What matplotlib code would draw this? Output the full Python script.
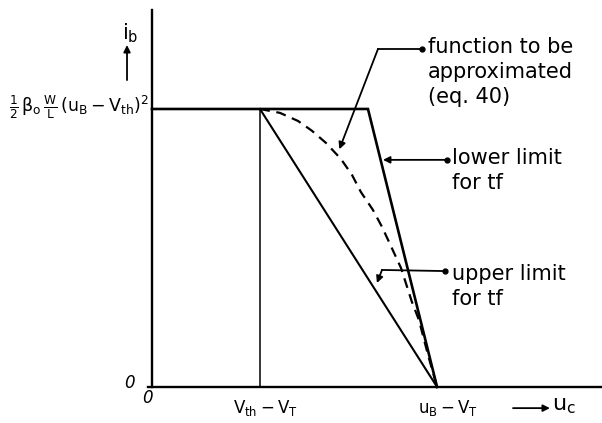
import matplotlib
matplotlib.use("Agg")
import matplotlib.pyplot as plt

# ===== settings =====
plt.rcParams["font.family"] = ["DejaVu Sans"]
plt.rcParams["mathtext.fontset"] = "custom"
plt.rcParams["mathtext.rm"] = "DejaVu Sans"
plt.rcParams["mathtext.it"] = "DejaVu Sans"

# ===== data (normalised units: Vth-VT = 1, saturation current = 1) =====
x_vth = 1.0          # Vth - VT
x_knee = 2.0         # end of the flat part of the lower limit
x_ub = 2.64          # uB - VT
i_max = 1.0          # 1/2 beta W/L (uB - Vth)^2

lower_x = [0.0, x_knee, x_ub]
lower_y = [i_max, i_max, 0.0]
upper_x = [x_vth, x_ub]
upper_y = [i_max, 0.0]

func_x = [1.0, 1.185, 1.352, 1.48, 1.611, 1.75, 1.852, 1.935, 2.046, 2.130,
          2.204, 2.306, 2.407, 2.472, 2.556, 2.64]
func_y = [1.0, 0.986, 0.957, 0.922, 0.878, 0.82, 0.763, 0.701, 0.637, 0.576,
          0.514, 0.428, 0.306, 0.241, 0.115, 0.0]

x_ticks = [x_vth, x_ub]
x_tick_labels = [r"$V_{th}-V_T$", r"$u_B-V_T$"]
y_label_text = r"$\frac{1}{2}\,\beta_o\,\frac{W}{L}\,(u_B-V_{th})^2$"

fig = plt.figure(figsize=(6.02, 4.23), dpi=100)
ax = fig.add_axes([0, 0, 1, 1])
ax.set_xlim(-1.407, 4.167)
ax.set_ylim(-0.1295, 1.392)

# axes drawn as spines through the origin
for side in ["top", "right"]:
    ax.spines[side].set_visible(False)
ax.spines["left"].set_position(("data", 0))
ax.spines["bottom"].set_position(("data", 0))
ax.spines["left"].set_bounds(0, 1.356)
ax.spines["bottom"].set_bounds(-0.04, 4.167)
ax.spines["left"].set_linewidth(1.7)
ax.spines["bottom"].set_linewidth(1.7)
ax.set_xticks([])
ax.set_yticks([])

# ===== curves =====
ax.plot(lower_x, lower_y, color="black", lw=1.9, solid_joinstyle="miter")
ax.plot(upper_x, upper_y, color="black", lw=1.5)
ax.plot([x_vth, x_vth], [0, i_max], color="black", lw=1.1)
ax.plot(func_x, func_y, color="black", lw=1.6, linestyle=(0, (4.5, 3)),
        solid_joinstyle="round", dash_joinstyle="round")

# ===== axis labels =====
ax.text(-0.204, 1.273, r"$i_b$", fontsize=15, ha="center", va="center")
ax.annotate("", xy=(-0.231, 1.23), xytext=(-0.231, 1.104),
            arrowprops=dict(arrowstyle="-|>", color="black", lw=1.3,
                            mutation_scale=10, shrinkA=0, shrinkB=0))
ax.text(-0.03, i_max + 0.005, y_label_text, fontsize=12.5, ha="right", va="center")
ax.text(-0.204, 0.014, "0", fontsize=12, style="italic", ha="center", va="center")
ax.text(-0.037, -0.04, "0", fontsize=12, style="italic", ha="center", va="center")
for xt, lab, dx in zip(x_ticks, x_tick_labels, [0.05, 0.1]):
    ax.text(xt + dx, -0.076, lab, fontsize=12, ha="center", va="center")
ax.annotate("", xy=(3.685, -0.076), xytext=(3.343, -0.076),
            arrowprops=dict(arrowstyle="-|>", color="black", lw=1.3,
                            mutation_scale=10, shrinkA=0, shrinkB=0))
ax.text(3.70, -0.07, r"$u_c$", fontsize=16, ha="left", va="center")

# ===== callouts =====
dot = dict(marker="o", ms=3.5, color="black")
arrow = dict(arrowstyle="-|>", color="black", lw=1.3, mutation_scale=10,
             shrinkA=0, shrinkB=0)
note = dict(fontsize=15, ha="left", va="top", linespacing=1.3)

# function to be approximated
ax.plot([2.5, 2.093], [1.216, 1.216], color="black", lw=1.3)
ax.plot([2.5], [1.216], **dot)
ax.annotate("", xy=(1.735, 0.855), xytext=(2.093, 1.216), arrowprops=arrow)
ax.text(2.556, 1.259, "function to be\napproximated\n(eq. 40)", **note)

# lower limit
ax.plot([2.731], [0.817], **dot)
ax.annotate("", xy=(2.139, 0.817), xytext=(2.731, 0.817), arrowprops=arrow)
ax.text(2.778, 0.86, "lower limit\nfor tf", **note)

# upper limit
ax.plot([2.713, 2.13], [0.417, 0.421], color="black", lw=1.3)
ax.plot([2.713], [0.417], **dot)
ax.annotate("", xy=(2.083, 0.374), xytext=(2.13, 0.421), arrowprops=arrow)
ax.text(2.778, 0.442, "upper limit\nfor tf", **note)

fig.savefig("out.png", dpi=100)
